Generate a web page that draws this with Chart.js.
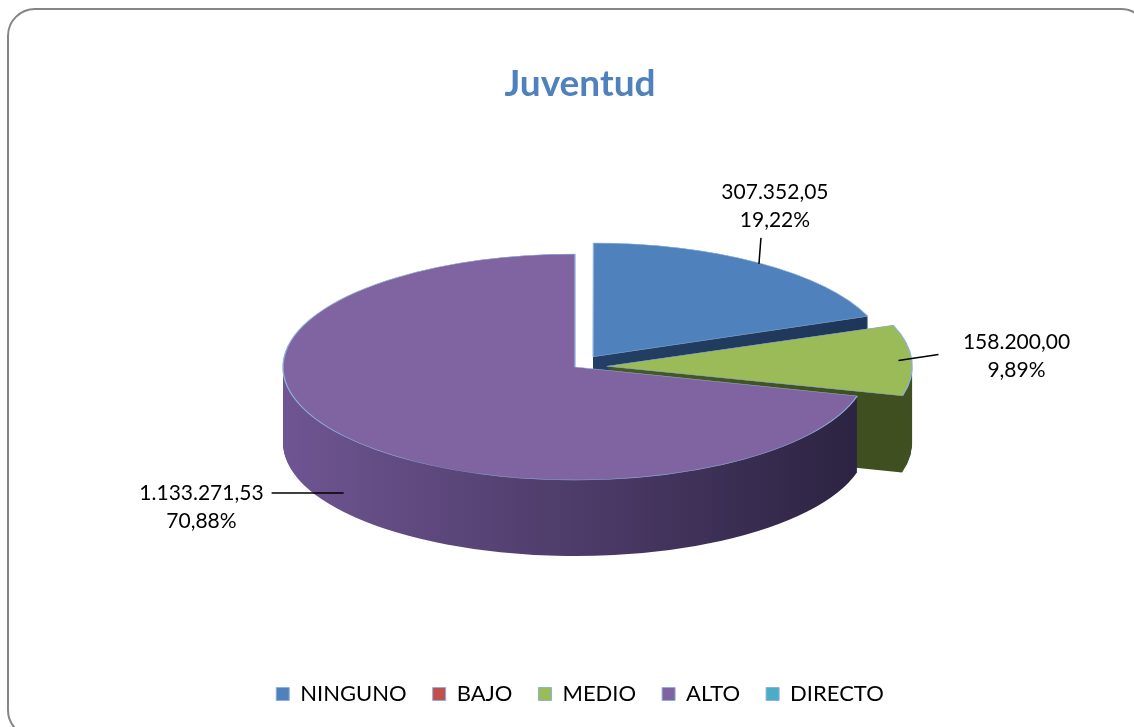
<!DOCTYPE html>
<html>
<head>
<meta charset="utf-8">
<title>Juventud</title>
<script src="https://cdn.jsdelivr.net/npm/chart.js@4.4.1/dist/chart.umd.min.js"></script>
<style>
  html, body { margin: 0; padding: 0; background: #fff; overflow: hidden; }
  #wrap { position: relative; width: 1134px; height: 727px; overflow: hidden; }
  #frame {
    position: absolute; left: 7px; top: 8px; width: 1138px; height: 726px;
    border: 2px solid #858585; border-radius: 28px;
  }
  #chart { position: absolute; left: 0; top: 0; }
</style>
</head>
<body>
<div id="wrap">
  <div id="frame"></div>
  <canvas id="chart" width="1134" height="727"></canvas>
</div>
<script>
/**
 * Juventud - 3D exploded pie (Excel look) drawn with Chart.js
 */

// Data
const categories = ['NINGUNO', 'BAJO', 'MEDIO', 'ALTO', 'DIRECTO'];
const amounts = [307352.05, 0, 158200.00, 1133271.53, 0];
const percents = [19.22, 0, 9.89, 70.88, 0];

// Office palette: top faces and side walls
const TOP_COLORS = ['#4F81BD', '#C0504D', '#9BBB59', '#8064A2', '#4BACC6'];
const SIDE_COLORS = [
  ['#2A4A74', '#1E3658'],
  ['#8C3836', '#6A2A28'],
  ['#52652A', '#3F4F1F'],
  ['#6F5592', '#2B2240'],
  ['#2F7A8E', '#225A69']
];

// Where the ellipse sits on the page
const PIE = { cx: 575, cy: 367, rx: 292, ry: 113, depth: 76 };

/**
 * Spanish number format: 1.133.271,53
 */
function fmtEs(v, dec) {
  const parts = v.toFixed(dec).split('.');
  return parts[0].replace(/\B(?=(\d{3})+(?!\d))/g, '.') + ',' + parts[1];
}

/**
 * Geometry of the flat Chart.js pie and the scale to the ellipse
 */
function pieGeometry(chart) {
  const arcs = chart.getDatasetMeta(0).data;
  const R = arcs[0].outerRadius;
  return { arcs, R, x: arcs[0].x, y: arcs[0].y, sx: PIE.rx / R, sy: PIE.ry / R };
}

/**
 * Sector path, same translation Chart.js uses for offset arcs
 */
function sectorPath(ctx, arc, dy) {
  const off = (arc.options.offset || 0) / 4;
  const mid = (arc.startAngle + arc.endAngle) / 2;
  const circ = arc.endAngle - arc.startAngle;
  const r = arc.outerRadius + off * (1 - Math.sin(Math.min(Math.PI, circ)));
  const x = arc.x + Math.cos(mid) * off;
  const y = arc.y + Math.sin(mid) * off + dy;
  ctx.beginPath();
  ctx.moveTo(x, y);
  ctx.arc(x, y, r, arc.startAngle, arc.endAngle);
  ctx.closePath();
}

/**
 * Screen position of the outer edge at the middle of a slice
 */
function edgePoint(g, arc) {
  const off = (arc.options.offset || 0) / 4;
  const mid = (arc.startAngle + arc.endAngle) / 2;
  const px = arc.x + Math.cos(mid) * (off + arc.outerRadius);
  const py = arc.y + Math.sin(mid) * (off + arc.outerRadius);
  return {
    x: PIE.cx + (px - g.x) * g.sx,
    y: PIE.cy + (py - g.y) * g.sy,
    front: Math.sin(mid) > 0.3
  };
}

const pie3d = {
  id: 'pie3d',
  beforeDatasetsDraw(chart) {
    const ctx = chart.ctx;
    const g = pieGeometry(chart);

    ctx.save();
    ctx.translate(PIE.cx, PIE.cy);
    ctx.scale(g.sx, g.sy);
    ctx.translate(-g.x, -g.y);

    // side walls: stack of shifted sectors, bottom first
    const fills = SIDE_COLORS.map(c => {
      const grad = ctx.createLinearGradient(g.x - g.R, 0, g.x + g.R, 0);
      grad.addColorStop(0, c[0]);
      grad.addColorStop(1, c[1]);
      return grad;
    });
    for (let k = PIE.depth; k >= 1; k--) {
      const dy = k / g.sy;
      g.arcs.forEach((arc, i) => {
        if (arc.endAngle - arc.startAngle <= 0) return;
        ctx.fillStyle = fills[i];
        sectorPath(ctx, arc, dy);
        ctx.fill();
      });
    }
    // the top faces are drawn by Chart.js under this same transform
  },
  afterDatasetsDraw(chart) {
    const ctx = chart.ctx;
    ctx.restore();

    const g = pieGeometry(chart);
    ctx.save();
    ctx.font = '21px Lato';
    ctx.fillStyle = '#000';
    ctx.strokeStyle = '#000';
    ctx.lineWidth = 1.5;
    ctx.textBaseline = 'middle';
    ctx.textAlign = 'center';

    g.arcs.forEach((arc, i) => {
      if (!amounts[i]) return;
      const p = edgePoint(g, arc);
      if (p.front) p.y += PIE.depth * 0.75;
      const line1 = fmtEs(amounts[i], 2);
      const line2 = fmtEs(percents[i], 2) + '%';
      let lx, ly, tx, ty;
      if (p.y < PIE.cy - PIE.ry * 0.5) {
        // above: vertical leader
        lx = p.x + 2; ly = p.y - 26;
        tx = p.x + 16; ty = p.y - 72;
      } else if (p.x > PIE.cx) {
        lx = p.x + 40; ly = p.y - 6;
        tx = p.x + 118; ty = p.y - 18;
      } else {
        // left: text ends just before the leader
        lx = p.x - 72; ly = p.y;
        tx = p.x - 80 - ctx.measureText(line1).width / 2; ty = p.y;
      }
      ctx.beginPath();
      ctx.moveTo(p.x, p.y);
      ctx.lineTo(lx, ly);
      ctx.stroke();
      ctx.fillText(line1, tx, ty);
      ctx.fillText(line2, tx, ty + 28);
    });
    ctx.restore();
  }
};

new Chart(document.getElementById('chart'), {
  type: 'pie',
  data: {
    labels: categories,
    datasets: [{
      data: amounts,
      backgroundColor: TOP_COLORS,
      borderColor: '#8FB0DA',
      borderWidth: 1,
      offset: [95, 0, 95, 0, 0]
    }]
  },
  options: {
    responsive: false,
    animation: false,
    events: [],
    layout: { padding: { top: 0, bottom: 12, left: 26, right: 0 } },
    plugins: {
      title: {
        display: true,
        text: 'Juventud',
        color: '#4F81BD',
        font: { family: 'Lato', size: 37, weight: 'bold' },
        padding: { top: 62, bottom: 20 }
      },
      legend: {
        position: 'bottom',
        labels: {
          color: '#000',
          font: { family: 'Lato', size: 22 },
          boxWidth: 13,
          boxHeight: 13,
          padding: 26
        }
      },
      tooltip: { enabled: false }
    }
  },
  plugins: [pie3d]
});
</script>
</body>
</html>
